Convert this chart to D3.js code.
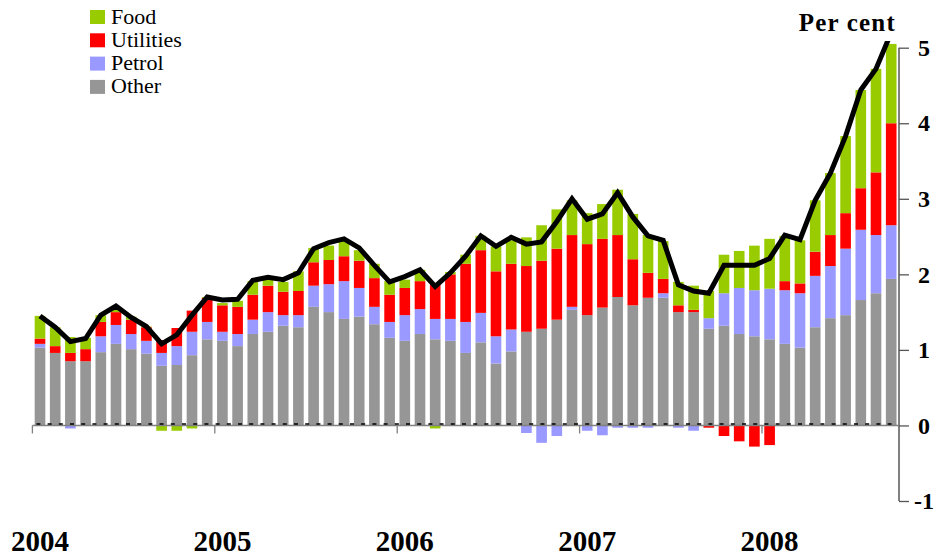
<!DOCTYPE html>
<html>
<head>
<meta charset="utf-8">
<script src="https://cdn.jsdelivr.net/npm/d3@7"></script>
<style>
  body { margin: 0; background: #fff; }
  svg { display: block; }
</style>
</head>
<body>
<div id="chart"></div>
<script>
// monthly contributions, Jan 2004 - Sep 2008 (percentage points)
var other = [1.03, 0.96, 0.85, 0.85, 0.97, 1.08, 1.01, 0.95, 0.79, 0.80, 0.93, 1.14,
             1.12, 1.05, 1.21, 1.24, 1.32, 1.30, 1.57, 1.50, 1.41, 1.44, 1.34, 1.16,
             1.12, 1.21, 1.14, 1.12, 0.96, 1.10, 0.82, 0.98, 1.24, 1.28, 1.40, 1.53,
             1.46, 1.56, 1.70, 1.59, 1.69, 1.69, 1.50, 1.50, 1.28, 1.32, 1.21, 1.18,
             1.14, 1.08, 1.03, 1.30, 1.42, 1.46, 1.66, 1.75, 1.94];
var petrol = [0.05, 0.00, -0.04, 0.00, 0.21, 0.25, 0.20, 0.17, 0.17, 0.25, 0.31, 0.23,
              0.12, 0.16, 0.19, 0.26, 0.14, 0.16, 0.28, 0.37, 0.50, 0.38, 0.23, 0.21,
              0.34, 0.33, 0.27, 0.29, 0.41, 0.39, 0.36, 0.29, -0.10, -0.23, -0.14, 0.04,
              -0.07, -0.13, -0.03, -0.03, -0.03, 0.06, -0.03, -0.07, 0.14, 0.43, 0.61, 0.61,
              0.67, 0.71, 0.72, 0.68, 0.69, 0.88, 0.93, 0.77, 0.71];
var utilities = [0.07, 0.09, 0.11, 0.16, 0.19, 0.17, 0.19, 0.18, 0.17, 0.24, 0.28, 0.32,
                 0.35, 0.36, 0.33, 0.35, 0.31, 0.32, 0.31, 0.32, 0.33, 0.36, 0.38, 0.36,
                 0.36, 0.37, 0.45, 0.59, 0.77, 0.83, 0.86, 0.87, 0.87, 0.90, 0.94, 0.95,
                 0.94, 0.91, 0.82, 0.61, 0.33, 0.19, 0.09, 0.03, -0.03, -0.14, -0.21, -0.28,
                 -0.26, 0.12, 0.13, 0.32, 0.41, 0.47, 0.55, 0.83, 1.35];
var food = [0.30, 0.25, 0.21, 0.15, 0.09, 0.06, 0.04, 0.01, -0.07, -0.07, -0.04, 0.01,
            0.03, 0.08, 0.18, 0.08, 0.13, 0.26, 0.19, 0.19, 0.21, 0.14, 0.19, 0.18,
            0.11, 0.15, -0.04, 0.03, 0.12, 0.19, 0.33, 0.31, 0.38, 0.47, 0.52, 0.46,
            0.41, 0.46, 0.60, 0.60, 0.50, 0.50, 0.31, 0.32, 0.36, 0.51, 0.49, 0.59,
            0.66, 0.60, 0.57, 0.68, 0.82, 1.02, 1.30, 1.37, 1.05];
// headline rate (black line)
var total = [1.45, 1.30, 1.11, 1.15, 1.46, 1.58, 1.43, 1.31, 1.08, 1.20, 1.46, 1.70,
             1.66, 1.67, 1.92, 1.96, 1.93, 2.02, 2.34, 2.42, 2.47, 2.35, 2.12, 1.90,
             1.97, 2.06, 1.84, 2.02, 2.24, 2.51, 2.37, 2.49, 2.40, 2.43, 2.70, 3.00,
             2.73, 2.80, 3.08, 2.76, 2.51, 2.45, 1.86, 1.78, 1.75, 2.12, 2.12, 2.12,
             2.21, 2.52, 2.46, 2.98, 3.34, 3.83, 4.44, 4.72, 5.20];
var years = ["2004", "2005", "2006", "2007", "2008"];
var yTicks = [-1, 0, 1, 2, 3, 4, 5];

var seriesKeys = ["Other", "Petrol", "Utilities", "Food"];
var legendKeys = ["Food", "Utilities", "Petrol", "Other"];
var colours = { Food: "#99cc00", Utilities: "#ff0000", Petrol: "#9999ff", Other: "#969696" };

var width = 944, height = 557;
var serif = "'Liberation Serif', 'Times New Roman', serif";

var table = other.map(function (d, i) {
    return { i: i, Other: d, Petrol: petrol[i], Utilities: utilities[i], Food: food[i] };
});

var svg = d3.select("#chart").append("svg")
    .attr("width", width)
    .attr("height", height)
    .attr("font-family", serif);

// scales
var x = d3.scaleBand()
    .domain(d3.range(other.length))
    .range([32.4, 898.8])
    .paddingInner(0.3)
    .paddingOuter(0.15);
var y = d3.scaleLinear().domain([-1, 5]).range([501, 47.7]);

var stacked = d3.stack()
    .keys(seriesKeys)
    .offset(d3.stackOffsetDiverging)(table);

// bars
svg.append("g").selectAll("g")
    .data(stacked)
    .enter().append("g")
    .attr("fill", function (d) { return colours[d.key]; })
    .selectAll("rect")
    .data(function (d) { return d; })
    .enter().append("rect")
    .attr("x", function (d) { return x(d.data.i); })
    .attr("width", x.bandwidth())
    .attr("y", function (d) { return y(Math.max(d[0], d[1])); })
    .attr("height", function (d) { return Math.abs(y(d[0]) - y(d[1])); });

// x axis
var x0 = x.range()[0], x1 = x.range()[1];
svg.append("line")
    .attr("x1", x0).attr("x2", x1)
    .attr("y1", y(0)).attr("y2", y(0))
    .attr("stroke", "#808080").attr("stroke-width", 1.5);

// dotted zero line
svg.append("line")
    .attr("x1", x0 + 4).attr("x2", x1 - 4)
    .attr("y1", y(0) - 1.5).attr("y2", y(0) - 1.5)
    .attr("stroke", "#000").attr("stroke-width", 1.5)
    .attr("stroke-dasharray", "4,7.2");

var step = x.step();
svg.append("g").selectAll("line")
    .data(years)
    .enter().append("line")
    .attr("x1", function (d, k) { return x(k * 12) - step * 0.15; })
    .attr("x2", function (d, k) { return x(k * 12) - step * 0.15; })
    .attr("y1", y(0))
    .attr("y2", y(0) + 8)
    .attr("stroke", "#808080").attr("stroke-width", 1.3);

svg.append("g").selectAll("text")
    .data(years)
    .enter().append("text")
    .attr("x", function (d, k) { return x(k * 12) + x.bandwidth() / 2; })
    .attr("y", 551)
    .attr("text-anchor", "middle")
    .attr("font-size", 29)
    .attr("font-weight", "bold")
    .text(function (d) { return d; });

// y axis on the right (labels drawn by hand for the bold serif face)
var yAxis = svg.append("g")
    .attr("transform", "translate(899,0)")
    .call(d3.axisRight(y)
        .tickValues(yTicks)
        .tickSize(10)
        .tickFormat(""));
yAxis.select(".domain")
    .attr("stroke", "#808080").attr("stroke-width", 2)
    .attr("d", "M0," + y(5) + "V" + y(-1));
yAxis.selectAll(".tick line").attr("stroke", "#555").attr("stroke-width", 1.3);

svg.append("g").selectAll("text")
    .data(yTicks)
    .enter().append("text")
    .attr("x", function (d) { return d < 0 ? 914 : 918; })
    .attr("y", function (d) { return y(d); })
    .attr("dy", "0.34em")
    .attr("font-size", 24)
    .attr("font-weight", "bold")
    .attr("fill", "#000")
    .text(function (d) { return String(d); });

svg.append("text")
    .attr("x", 896)
    .attr("y", 30.5)
    .attr("text-anchor", "end")
    .attr("font-size", 25)
    .attr("font-weight", "bold")
    .attr("letter-spacing", 1.2)
    .text("Per cent");

// headline line, clipped at the top of the plot
svg.append("clipPath").attr("id", "plotClip")
    .append("rect").attr("x", 0).attr("y", 41).attr("width", width).attr("height", height);

var line = d3.line()
    .x(function (d, i) { return x(i) + x.bandwidth() / 2; })
    .y(function (d) { return y(d); });

svg.append("path")
    .datum(total)
    .attr("clip-path", "url(#plotClip)")
    .attr("fill", "none")
    .attr("stroke", "#000")
    .attr("stroke-width", 5)
    .attr("stroke-linejoin", "miter")
    .attr("d", line);

// legend
var legend = svg.append("g").selectAll("g")
    .data(legendKeys)
    .enter().append("g")
    .attr("transform", function (d, k) { return "translate(90," + (10 + k * 23.3) + ")"; });
legend.append("rect")
    .attr("width", 15).attr("height", 14)
    .attr("fill", function (d) { return colours[d]; });
legend.append("text")
    .attr("x", 21)
    .attr("y", 13.5)
    .attr("font-size", 22)
    .text(function (d) { return d; });
</script>
</body>
</html>
